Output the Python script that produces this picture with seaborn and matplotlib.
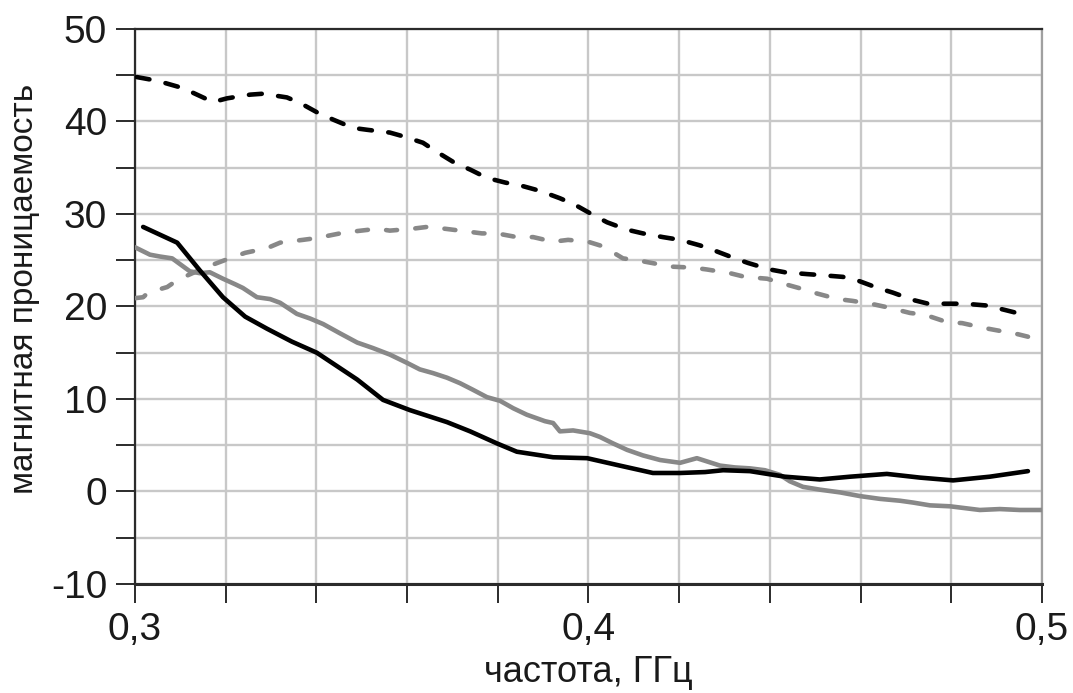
import numpy as np
import pandas as pd
import matplotlib
matplotlib.use("Agg")
import matplotlib.pyplot as plt
from matplotlib.ticker import MultipleLocator, FixedLocator, FuncFormatter
import seaborn as sns

# --- measured permeability spectra -------------------------------------
# real part, sample 1 (black solid)
f_re1 = [0.3018, 0.3093, 0.3143, 0.3194, 0.3243, 0.3291, 0.3346, 0.3401, 0.3490,
         0.3547, 0.3606, 0.3688, 0.3739, 0.3798, 0.3842, 0.3922, 0.3997, 0.4069,
         0.4142, 0.4202, 0.4257, 0.4297, 0.4356, 0.4433, 0.4510, 0.4577, 0.4658,
         0.4731, 0.4804, 0.4885, 0.4969]
mu_re1 = [28.6, 26.9, 23.9, 21.0, 18.9, 17.6, 16.2, 15.0, 12.1,
          9.9, 8.8, 7.5, 6.5, 5.2, 4.3, 3.7, 3.6, 2.8,
          2.0, 2.0, 2.1, 2.3, 2.2, 1.6, 1.3, 1.6, 1.9,
          1.5, 1.2, 1.6, 2.2]

# real part, sample 2 (grey solid)
f_re2 = [0.3000, 0.3033, 0.3055, 0.3082, 0.3121, 0.3143, 0.3165, 0.3194, 0.3221,
         0.3238, 0.3269, 0.3298, 0.3320, 0.3357, 0.3386, 0.3415, 0.3452, 0.3490,
         0.3525, 0.3562, 0.3600, 0.3628, 0.3657, 0.3688, 0.3717, 0.3745, 0.3776,
         0.3805, 0.3834, 0.3864, 0.3904, 0.3922, 0.3937, 0.3966, 0.4003, 0.4025,
         0.4054, 0.4085, 0.4120, 0.4158, 0.4202, 0.4239, 0.4290, 0.4323, 0.4356,
         0.4389, 0.4422, 0.4444, 0.4473, 0.4510, 0.4555, 0.4599, 0.4643, 0.4687,
         0.4716, 0.4753, 0.4797, 0.4830, 0.4863, 0.4907, 0.4951, 0.5000]
mu_re2 = [26.4, 25.6, 25.4, 25.2, 23.8, 23.6, 23.7, 23.0, 22.4,
          22.0, 21.0, 20.8, 20.4, 19.2, 18.7, 18.1, 17.1, 16.1,
          15.5, 14.8, 13.9, 13.2, 12.8, 12.3, 11.7, 11.0, 10.2,
          9.8, 9.0, 8.3, 7.6, 7.4, 6.5, 6.6, 6.3, 5.9,
          5.2, 4.5, 3.9, 3.4, 3.1, 3.6, 2.8, 2.6, 2.5,
          2.3, 1.8, 1.1, 0.5, 0.2, -0.1, -0.5, -0.8, -1.0,
          -1.2, -1.5, -1.6, -1.8, -2.0, -1.9, -2.0, -2.0]

# imaginary part, sample 1 (black dashed)
f_im1 = [0.3004, 0.3049, 0.3099, 0.3128, 0.3172, 0.3203, 0.3254, 0.3282, 0.3335,
         0.3364, 0.3401, 0.3437, 0.3481, 0.3512, 0.3562, 0.3591, 0.3635, 0.3666,
         0.3706, 0.3739, 0.3776, 0.3816, 0.3856, 0.3893, 0.3937, 0.3970, 0.4010,
         0.4041, 0.4085, 0.4120, 0.4164, 0.4202, 0.4246, 0.4275, 0.4323, 0.4352,
         0.4400, 0.4433, 0.4482, 0.4510, 0.4561, 0.4594, 0.4638, 0.4671, 0.4716,
         0.4749, 0.4797, 0.4830, 0.4879, 0.4912, 0.4969]
mu_im1 = [44.8, 44.4, 43.7, 43.1, 42.1, 42.5, 42.9, 43.0, 42.6,
          42.0, 41.0, 40.2, 39.3, 39.1, 38.8, 38.4, 37.7, 36.7,
          35.5, 34.8, 33.9, 33.4, 33.0, 32.5, 31.7, 31.0, 29.9,
          29.1, 28.3, 27.9, 27.5, 27.2, 26.6, 26.1, 25.2, 24.7,
          24.0, 23.7, 23.5, 23.4, 23.2, 22.8, 22.0, 21.5, 20.7,
          20.3, 20.3, 20.3, 20.1, 19.7, 19.0]

# imaginary part, sample 2 (grey dashed)
f_im2 = [0.3000, 0.3018, 0.3029, 0.3071, 0.3095, 0.3154, 0.3214, 0.3243, 0.3291,
         0.3320, 0.3370, 0.3401, 0.3452, 0.3481, 0.3534, 0.3562, 0.3611, 0.3644,
         0.3684, 0.3717, 0.3765, 0.3798, 0.3842, 0.3878, 0.3922, 0.3955, 0.3999,
         0.4032, 0.4076, 0.4107, 0.4151, 0.4186, 0.4230, 0.4261, 0.4312, 0.4345,
         0.4394, 0.4427, 0.4471, 0.4504, 0.4550, 0.4583, 0.4632, 0.4660, 0.4709,
         0.4742, 0.4791, 0.4824, 0.4870, 0.4903, 0.4947, 0.4980, 0.5000]
mu_im2 = [20.9, 21.0, 21.5, 22.1, 22.9, 24.2, 25.3, 25.8, 26.3,
          26.9, 27.2, 27.4, 27.9, 28.1, 28.4, 28.2, 28.4, 28.6,
          28.4, 28.2, 27.9, 27.9, 27.5, 27.5, 27.0, 27.2, 27.0,
          26.5, 25.2, 25.0, 24.6, 24.3, 24.2, 24.0, 23.6, 23.2,
          23.0, 22.5, 21.9, 21.4, 20.8, 20.6, 20.2, 19.9, 19.3,
          19.1, 18.3, 18.2, 17.7, 17.4, 17.0, 16.6, 16.5]

x_label = "частота, ГГц"
y_label = "магнитная проницаемость"

# --- figure -------------------------------------------------------------
sns.set_theme(style="white")
plt.rcParams["font.family"] = ["Liberation Sans", "DejaVu Sans"]

fig = plt.figure(figsize=(10.73, 6.93), dpi=100)
ax = fig.add_axes([0.1258, 0.1573, 0.9711 - 0.1258, 0.9582 - 0.1573])

grid_c = "#c8c8c8"
spine_c = "#2b2b2b"
text_c = "#1a1a1a"

series = [
    (f_im1, mu_im1, "#000000", (0, (2.8, 3.6))),
    (f_im2, mu_im2, "#888888", (0, (2.4, 4.0))),
    (f_re2, mu_re2, "#888888", "-"),
    (f_re1, mu_re1, "#000000", "-"),
]
for fx, mu, col, ls in series:
    df = pd.DataFrame({"f": fx, "mu": mu})
    sns.lineplot(data=df, x="f", y="mu", ax=ax, color=col, linewidth=3.3,
                 estimator=None, sort=False, linestyle=ls, zorder=3,
                 dash_capstyle="round", solid_capstyle="round",
                 solid_joinstyle="round")

ax.set_xlim(0.3, 0.5)
ax.set_ylim(-10, 50)

ax.xaxis.set_major_locator(FixedLocator([0.3, 0.4, 0.5]))
ax.xaxis.set_minor_locator(MultipleLocator(0.02))
ax.yaxis.set_major_locator(MultipleLocator(10))
ax.yaxis.set_minor_locator(MultipleLocator(5))
ax.xaxis.set_major_formatter(FuncFormatter(lambda v, p: f"{v:.1f}".replace(".", ",")))
ax.yaxis.set_major_formatter(FuncFormatter(lambda v, p: f"{v:.0f}"))

ax.grid(True, which="both", color=grid_c, linewidth=1.7, zorder=0)
ax.set_axisbelow(True)

ax.tick_params(axis="both", which="both", direction="out", length=13.5,
               width=1.4, color=spine_c, labelsize=28, labelcolor=text_c)
ax.tick_params(axis="y", which="both", left=True, pad=6.5)
ax.tick_params(axis="x", which="both", bottom=True, pad=7)

for side in ["left", "bottom", "top"]:
    ax.spines[side].set_visible(True)
    ax.spines[side].set_color(spine_c)
    ax.spines[side].set_linewidth(1.6)
ax.spines["bottom"].set_linewidth(2.2)
ax.spines["right"].set_color("#a0a0a0")
ax.spines["right"].set_linewidth(1.6)

ax.set_xlabel(x_label, fontsize=26, color=text_c)
ax.set_ylabel(y_label, fontsize=24, color=text_c)
ax.xaxis.set_label_coords(0.5, -0.128)
ax.yaxis.set_label_coords(-0.1047, 0.5315)

fig.savefig("out.png", dpi=100, facecolor="white")
